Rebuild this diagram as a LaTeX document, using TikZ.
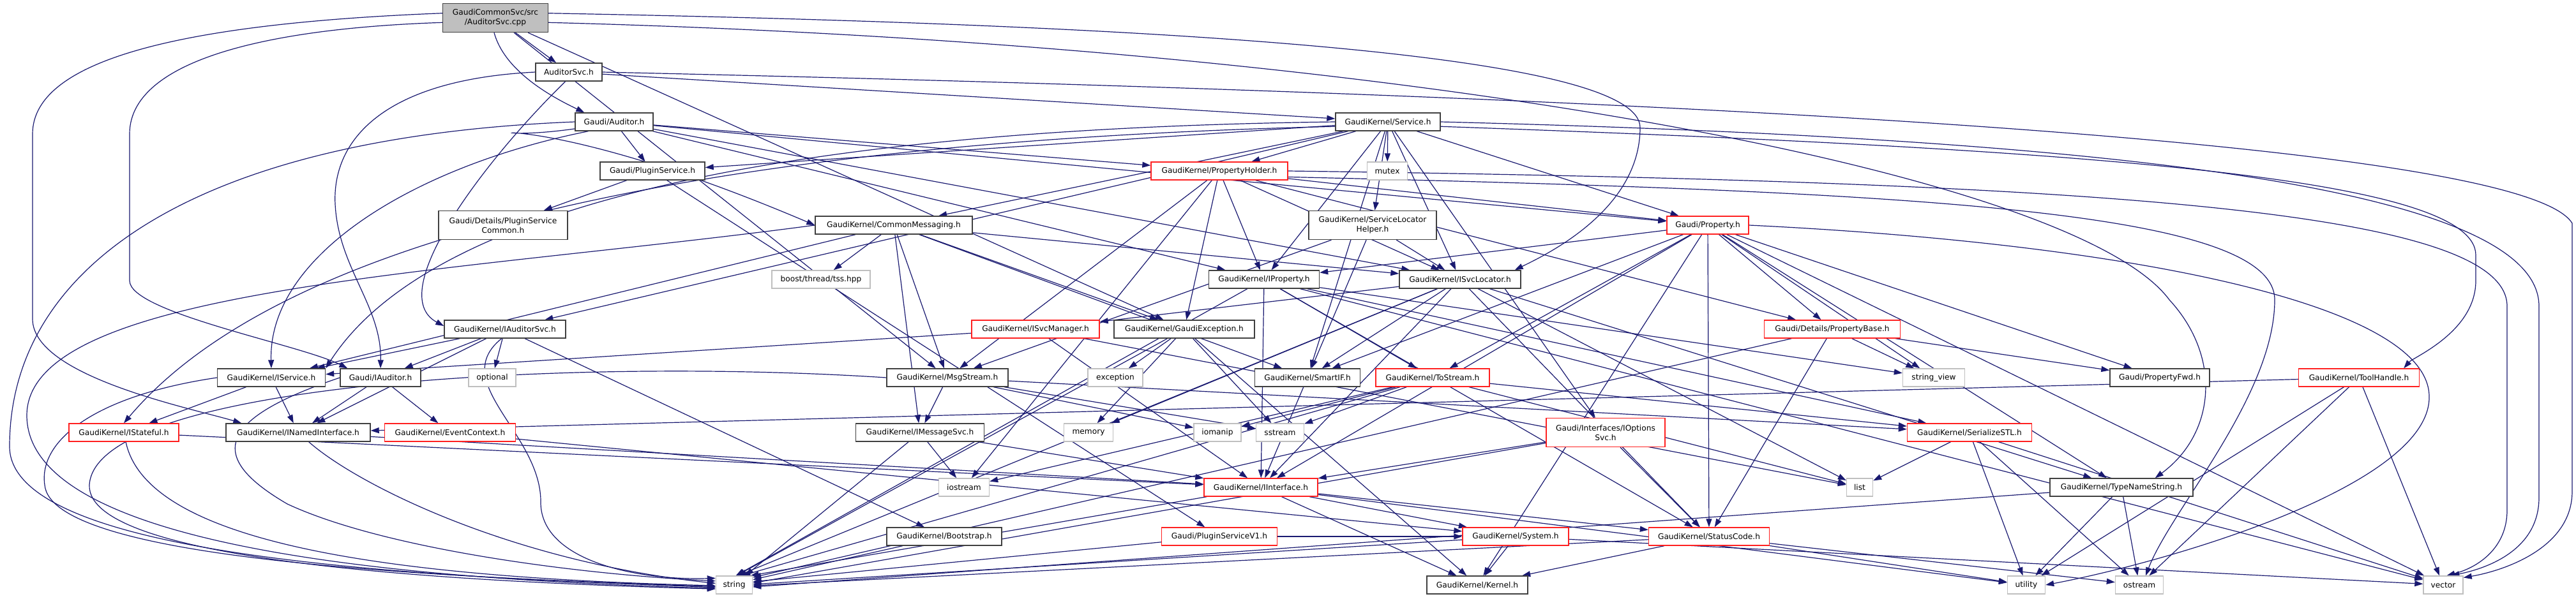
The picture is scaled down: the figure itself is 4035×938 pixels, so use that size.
\documentclass[tikz,border=0pt]{standalone}
\usepackage{fontspec}
\setmainfont{DejaVu Sans}
\usetikzlibrary{arrows.meta,backgrounds}
\definecolor{edgeblue}{HTML}{191970}
\definecolor{boxgrey}{HTML}{404040}
\definecolor{extgrey}{HTML}{BFBFBF}
\definecolor{truncred}{HTML}{FF2020}
\tikzset{hdr/.style={draw=boxgrey,line width=1.4pt,fill=white,minimum height=28pt,inner xsep=3pt,inner ysep=0pt,font=\fontsize{12.2}{15}\selectfont,align=center},
  trunc/.style={hdr,draw=truncred},
  sys/.style={hdr,draw=extgrey},
  dep/.style={->,>={Triangle[length=13pt,width=9pt]},edgeblue,line width=1.2pt}}

\begin{document}
\begin{tikzpicture}[x=1pt,y=-1pt]

\useasboundingbox (0,0) rectangle (4035,938);

% Nodes
\node[hdr,fill=extgrey,minimum width=165pt,minimum height=45pt] (auditorsvc-cpp) at (776,28) {GaudiCommonSvc/src\\/AuditorSvc.cpp};
\node[hdr,minimum width=104pt] (auditorsvc-h) at (891,113) {AuditorSvc.h};
\node[hdr,minimum width=122pt] (auditor-h) at (962,191) {Gaudi/Auditor.h};
\node[hdr,minimum width=164pt] (service-h) at (2174,191) {GaudiKernel/Service.h};
\node[hdr,minimum width=164pt] (pluginservice-h) at (1022,268) {Gaudi/PluginService.h};
\node[trunc,minimum width=214pt] (propertyholder-h) at (1910,268) {GaudiKernel/PropertyHolder.h};
\node[sys,minimum width=63pt] (mutex) at (2173,268) {mutex};
\node[hdr,minimum width=202pt,minimum height=45pt] (pluginservicecommon-h) at (788,353) {Gaudi/Details/PluginService\\Common.h};
\node[hdr,minimum width=246pt] (commonmessaging-h) at (1400,353) {GaudiKernel/CommonMessaging.h};
\node[hdr,minimum width=200pt,minimum height=45pt] (servicelocatorhelper-h) at (2150,353) {GaudiKernel/ServiceLocator\\Helper.h};
\node[trunc,minimum width=128pt] (property-h) at (2675,353) {Gaudi/Property.h};
\node[sys,minimum width=154pt] (tss-hpp) at (1286,438) {boost/thread/tss.hpp};
\node[hdr,minimum width=173pt] (iproperty-h) at (1980,438) {GaudiKernel/IProperty.h};
\node[hdr,minimum width=190pt] (isvclocator-h) at (2287,438) {GaudiKernel/ISvcLocator.h};
\node[hdr,minimum width=190pt] (iauditorsvc-h) at (791,516) {GaudiKernel/IAuditorSvc.h};
\node[trunc,minimum width=200pt] (isvcmanager-h) at (1622,516) {GaudiKernel/ISvcManager.h};
\node[hdr,minimum width=220pt] (gaudiexception-h) at (1855,516) {GaudiKernel/GaudiException.h};
\node[trunc,minimum width=213pt] (propertybase-h) at (2870,516) {Gaudi/Details/PropertyBase.h};
\node[hdr,minimum width=169pt] (iservice-h) at (425,592) {GaudiKernel/IService.h};
\node[hdr,minimum width=126pt] (iauditor-h) at (596,592) {Gaudi/IAuditor.h};
\node[sys,minimum width=74pt] (optional) at (771,592) {optional};
\node[hdr,minimum width=190pt] (msgstream-h) at (1484,592) {GaudiKernel/MsgStream.h};
\node[sys,minimum width=86pt] (exception) at (1747,592) {exception};
\node[hdr,minimum width=165pt] (smartif-h) at (2048,592) {GaudiKernel/SmartIF.h};
\node[trunc,minimum width=178pt] (tostream-h) at (2244,592) {GaudiKernel/ToStream.h};
\node[sys,minimum width=97pt] (string-view) at (3029,592) {string\_view};
\node[hdr,minimum width=156pt] (propertyfwd-h) at (3383,592) {Gaudi/PropertyFwd.h};
\node[trunc,minimum width=189pt] (toolhandle-h) at (3695,592) {GaudiKernel/ToolHandle.h};
\node[trunc,minimum width=172pt] (istateful-h) at (194,678) {GaudiKernel/IStateful.h};
\node[hdr,minimum width=226pt] (inamedinterface-h) at (467,678) {GaudiKernel/INamedInterface.h};
\node[trunc,minimum width=205pt] (eventcontext-h) at (705,678) {GaudiKernel/EventContext.h};
\node[hdr,minimum width=201pt] (imessagesvc-h) at (1441,678) {GaudiKernel/IMessageSvc.h};
\node[sys,minimum width=77pt] (memory) at (1705,678) {memory};
\node[sys,minimum width=74pt] (iomanip) at (1907,678) {iomanip};
\node[sys,minimum width=75pt] (sstream) at (2005,678) {sstream};
\node[trunc,minimum width=186pt,minimum height=45pt] (ioptionssvc-h) at (2515,678) {Gaudi/Interfaces/IOptions\\Svc.h};
\node[trunc,minimum width=195pt] (serializestl-h) at (3085,678) {GaudiKernel/SerializeSTL.h};
\node[sys,minimum width=79pt] (iostream) at (1510,764) {iostream};
\node[trunc,minimum width=178pt] (iinterface-h) at (1975,764) {GaudiKernel/IInterface.h};
\node[sys,minimum width=41pt] (list) at (2913,764) {list};
\node[hdr,minimum width=224pt] (typenamestring-h) at (3323,764) {GaudiKernel/TypeNameString.h};
\node[hdr,minimum width=180pt] (bootstrap-h) at (1479,841) {GaudiKernel/Bootstrap.h};
\node[trunc,minimum width=181pt] (pluginservicev1-h) at (1910,841) {Gaudi/PluginServiceV1.h};
\node[trunc,minimum width=166pt] (system-h) at (2374,841) {GaudiKernel/System.h};
\node[trunc,minimum width=189pt] (statuscode-h) at (2677,841) {GaudiKernel/StatusCode.h};
\node[sys,minimum width=57pt] (string) at (1150,917) {string};
\node[hdr,minimum width=158pt] (kernel-h) at (2314,917) {GaudiKernel/Kernel.h};
\node[sys,minimum width=59pt] (utility) at (3174,917) {utility};
\node[sys,minimum width=75pt] (ostream) at (3351,917) {ostream};
\node[sys,minimum width=62pt] (vector) at (3827,917) {vector};

\begin{scope}[on background layer]
% The include edges
\foreach \src/\dst in {auditorsvc-cpp/auditorsvc-h,auditorsvc-cpp/gaudiexception-h,auditorsvc-cpp/msgstream-h,
  auditorsvc-h/service-h,
  auditor-h/pluginservice-h,auditor-h/propertyholder-h,auditor-h/property-h,auditor-h/iproperty-h,auditor-h/isvclocator-h,
  service-h/pluginservice-h,service-h/propertyholder-h,service-h/mutex,service-h/commonmessaging-h,service-h/servicelocatorhelper-h,service-h/property-h,service-h/iproperty-h,service-h/isvclocator-h,service-h/iauditorsvc-h,service-h/smartif-h,service-h/ioptionssvc-h,
  pluginservice-h/pluginservicecommon-h,pluginservice-h/pluginservicev1-h,
  propertyholder-h/property-h,propertyholder-h/iproperty-h,propertyholder-h/gaudiexception-h,propertyholder-h/isvclocator-h,propertyholder-h/propertybase-h,propertyholder-h/msgstream-h,propertyholder-h/iostream,
  commonmessaging-h/tss-hpp,commonmessaging-h/gaudiexception-h,commonmessaging-h/imessagesvc-h,commonmessaging-h/iservice-h,commonmessaging-h/isvclocator-h,commonmessaging-h/msgstream-h,commonmessaging-h/smartif-h,
  servicelocatorhelper-h/isvclocator-h,servicelocatorhelper-h/msgstream-h,servicelocatorhelper-h/smartif-h,
  property-h/iproperty-h,property-h/propertybase-h,property-h/propertyfwd-h,property-h/string-view,property-h/smartif-h,property-h/tostream-h,property-h/typenamestring-h,property-h/kernel-h,property-h/iinterface-h,property-h/statuscode-h,property-h/vector,
  iproperty-h/iinterface-h,iproperty-h/tostream-h,iproperty-h/statuscode-h,iproperty-h/string-view,iproperty-h/serializestl-h,iproperty-h/vector,
  isvclocator-h/isvcmanager-h,isvclocator-h/smartif-h,isvclocator-h/iinterface-h,isvclocator-h/typenamestring-h,isvclocator-h/list,isvclocator-h/memory,isvclocator-h/statuscode-h,
  iauditorsvc-h/iservice-h,iauditorsvc-h/iauditor-h,iauditorsvc-h/optional,iauditorsvc-h/inamedinterface-h,iauditorsvc-h/bootstrap-h,
  isvcmanager-h/iservice-h,isvcmanager-h/iinterface-h,isvcmanager-h/list,
  gaudiexception-h/exception,gaudiexception-h/memory,gaudiexception-h/sstream,gaudiexception-h/kernel-h,
  propertybase-h/string-view,propertybase-h/propertyfwd-h,propertybase-h/statuscode-h,
  toolhandle-h/vector,toolhandle-h/ostream,toolhandle-h/utility,toolhandle-h/inamedinterface-h,
  iservice-h/istateful-h,iservice-h/inamedinterface-h,
  iauditor-h/inamedinterface-h,iauditor-h/eventcontext-h,
  msgstream-h/imessagesvc-h,msgstream-h/iomanip,msgstream-h/sstream,msgstream-h/serializestl-h,
  smartif-h/iinterface-h,
  tostream-h/iomanip,tostream-h/sstream,tostream-h/iostream,tostream-h/serializestl-h,tostream-h/list,
  istateful-h/iinterface-h,inamedinterface-h/iinterface-h,
  eventcontext-h/system-h,
  imessagesvc-h/iinterface-h,imessagesvc-h/iostream,
  ioptionssvc-h/iinterface-h,ioptionssvc-h/statuscode-h,
  serializestl-h/list,serializestl-h/utility,serializestl-h/ostream,serializestl-h/vector,
  iinterface-h/system-h,iinterface-h/statuscode-h,iinterface-h/kernel-h,iinterface-h/utility,
  typenamestring-h/utility,typenamestring-h/ostream,
  pluginservicev1-h/system-h,
  system-h/kernel-h,system-h/vector,
  statuscode-h/kernel-h,statuscode-h/utility,statuscode-h/ostream}
  \draw[dep] (\src) -- (\dst);

% Includes of string from the right
\foreach \src/\ang in {iproperty-h/80,isvclocator-h/68,gaudiexception-h/75,tostream-h/50,imessagesvc-h/40,iinterface-h/30,propertybase-h/22,bootstrap-h/16,pluginservicev1-h/10,ioptionssvc-h/6,system-h/2,statuscode-h/358,typenamestring-h/354}
  \draw[dep] (\src) -- (string.\ang);

% Includes of string round the left side
\draw[dep] (auditor-h.west) .. controls (300,215) and (15,420) .. (15,700) .. controls (15,880) and (700,905) .. (string.187);
\draw[dep] (commonmessaging-h.west) .. controls (700,430) and (45,450) .. (42,650) .. controls (40,870) and (700,910) .. (string.190);
\draw[dep] (iservice-h.west) .. controls (150,620) and (60,690) .. (70,760) .. controls (80,880) and (700,905) .. (string.185);
\draw[dep] (msgstream-h.west) .. controls (900,560) and (150,600) .. (140,760) .. controls (135,880) and (700,912) .. (string.192);
\draw[dep] (istateful-h) .. controls (230,850) and (600,905) .. (string.182);
\draw[dep] (inamedinterface-h) .. controls (560,760) and (800,880) .. (string.175);
\draw[dep] (iauditor-h.west) .. controls (330,660) and (330,720) .. (450,790) .. controls (600,860) and (900,900) .. (string.168);
\draw[dep] (iauditorsvc-h.250) .. controls (700,600) and (850,680) .. (847,790) .. controls (850,880) and (1000,910) .. (string.160);

% Long edges round the outside
\draw[dep] (auditorsvc-cpp.265) .. controls (790,110) and (860,150) .. ([xshift=15pt]auditor-h.north west);
\draw[dep] (auditorsvc-cpp.175) .. controls (300,36) and (51,90) .. (51,210) -- (51,500) .. controls (51,590) and (300,640) .. ([xshift=25pt]inamedinterface-h.north west);
\draw[dep] (auditorsvc-cpp.185) .. controls (400,45) and (203,100) .. (203,210) -- (203,440) .. controls (203,490) and (470,540) .. ([xshift=12pt]iauditor-h.north west);
\draw[dep] (auditorsvc-cpp.5) .. controls (1900,40) and (2569,90) .. (2569,200) .. controls (2569,330) and (2420,400) .. ([xshift=-10pt]isvclocator-h.north east);
\draw[dep] (auditorsvc-cpp.355) .. controls (2200,70) and (3250,270) .. (3398,470) .. controls (3481,560) and (3470,680) .. ([xshift=-60pt]typenamestring-h.north east);
\draw[dep] (auditorsvc-h.west) .. controls (600,125) and (520,220) .. (525,320) .. controls (530,420) and (598,480) .. (iauditor-h.north);
\draw[dep] (auditorsvc-h.250) .. controls (760,250) and (600,460) .. ([yshift=5pt]iauditorsvc-h.west);
\draw[dep] (auditorsvc-h.east) .. controls (2600,150) and (3950,220) .. (4029,350) -- (4029,770) .. controls (4029,860) and (3920,895) .. (vector.20);
\draw[dep] (auditor-h.200) .. controls (650,260) and (420,400) .. (iservice-h.north);
\draw[dep] (auditor-h.190) .. controls (700,230) and (800,150) .. (commonmessaging-h.west);
\draw[dep] (service-h.west) .. controls (1400,200) and (700,280) .. (iservice-h.north east);
\draw[dep] (service-h.185) .. controls (1400,215) and (500,300) .. (istateful-h.north);
\draw[dep] (service-h.east) .. controls (3200,215) and (3977,280) .. (3977,480) -- (3977,780) .. controls (3977,860) and (3900,890) .. (vector.50);
\draw[dep] (service-h.355) .. controls (3300,235) and (3878,280) .. (3878,400) -- (3878,440) .. controls (3878,520) and (3780,560) .. ([xshift=-25pt]toolhandle-h.north east);
\draw[dep] (propertyholder-h.east) .. controls (3300,285) and (3927,330) .. (3927,480) -- (3927,800) .. controls (3927,860) and (3880,890) .. (vector.70);
\draw[dep] (propertyholder-h.355) .. controls (3000,300) and (3563,330) .. (3563,470) .. controls (3563,620) and (3400,800) .. ([xshift=10pt]ostream.north);
\draw[dep] (property-h.east) .. controls (3300,380) and (3800,470) .. (3805,620) .. controls (3810,760) and (3400,880) .. (utility.east);
\end{scope}

\end{tikzpicture}
\end{document}
